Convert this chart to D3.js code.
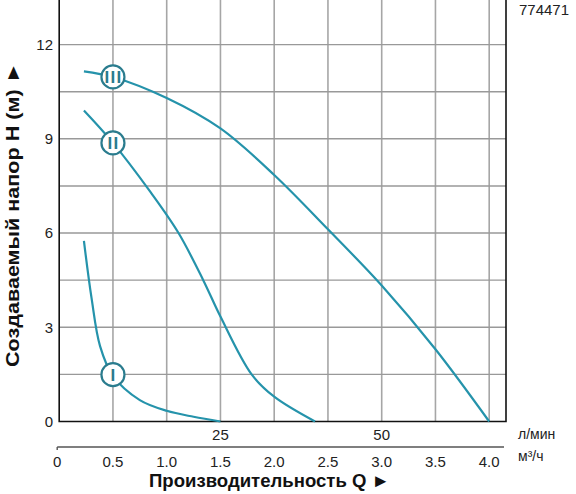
<!DOCTYPE html>
<html><head><meta charset="utf-8">
<script src="https://cdn.jsdelivr.net/npm/d3@7"></script>
<style>
html,body{margin:0;padding:0;background:#fff;}
svg{display:block;font-family:"Liberation Sans",Arial,sans-serif;}
</style></head>
<body>
<svg id="c" width="576" height="494"></svg>
<script>
// ---- data ----
const flowTicksM3h = [0.5, 1.0, 1.5, 2.0, 2.5, 3.0, 3.5, 4.0];
const flowTicksLmin = [25, 50];
const headTicks = [0, 3, 6, 9, 12];
const headGrid = [1.5, 3, 4.5, 6, 7.5, 9, 10.5, 12];
const curveNames = ["I", "II", "III"];
const curveI_Q = [0.23, 0.30, 0.38, 0.50, 0.75, 1.00, 1.25, 1.50];
const curveI_H = [5.75, 3.95, 2.40, 1.45, 0.68, 0.34, 0.15, 0.00];
const curveII_Q = [0.23, 0.50, 0.85, 1.11, 1.34, 1.50, 1.79, 2.00, 2.38];
const curveII_H = [9.90, 8.87, 7.30, 6.00, 4.50, 3.34, 1.50, 0.79, 0.00];
const curveIII_Q = [0.23, 0.50, 1.00, 1.50, 2.00, 2.50, 3.00, 3.50, 4.00];
const curveIII_H = [11.15, 10.97, 10.30, 9.33, 7.85, 6.12, 4.33, 2.30, 0.00];
const markerQ = 0.5;
const markerH = [1.49, 8.87, 10.97];
const chartCode = "774471";

// ---- layout ----
const svg = d3.select("#c");
const x = d3.scaleLinear().domain([0, 4]).range([59.2, 489.2]);
const y = d3.scaleLinear().domain([0, 13.42]).range([421.5, 0]);
const plotRight = 506, plotTop = 0, plotBottom = y(0), plotLeft = x(0);
const teal = "#2593ab", tealDark = "#2a7c8e";

// grid
const g = svg.append("g");
g.selectAll("line.v").data(flowTicksM3h).enter().append("line")
  .attr("x1", d => x(d)).attr("x2", d => x(d))
  .attr("y1", plotTop).attr("y2", plotBottom)
  .attr("stroke", "#a6a6a6").attr("stroke-width", 1.6);
g.selectAll("line.h").data(headGrid).enter().append("line")
  .attr("x1", plotLeft).attr("x2", plotRight)
  .attr("y1", d => y(d)).attr("y2", d => y(d))
  .attr("stroke", "#999").attr("stroke-width", 1.4);

// frame
svg.append("path")
  .attr("d", `M${plotLeft},${plotTop}V${plotBottom}H${plotRight}V${plotTop}`)
  .attr("fill", "none").attr("stroke", "#111").attr("stroke-width", 1.6);

// y tick labels
svg.selectAll("text.yt").data(headTicks).enter().append("text")
  .attr("x", 53).attr("y", d => y(d)).attr("dy", "0.36em")
  .attr("text-anchor", "end").attr("font-size", 15).attr("fill", "#222")
  .text(d => d);

// bottom m3/h axis
const axisY = 447;
svg.append("line").attr("x1", x(0) - 2).attr("x2", 504).attr("y1", axisY).attr("y2", axisY)
  .attr("stroke", "#555").attr("stroke-width", 1.6);
svg.append("line").attr("x1", x(0) - 2).attr("x2", x(0) - 2).attr("y1", axisY).attr("y2", axisY + 3)
  .attr("stroke", "#555").attr("stroke-width", 1.4);
svg.selectAll("text.xt").data([0].concat(flowTicksM3h)).enter().append("text")
  .attr("x", d => d === 0 ? x(d) - 2 : x(d)).attr("y", 467)
  .attr("text-anchor", "middle").attr("font-size", 15).attr("fill", "#222")
  .text(d => d === 0 ? "0" : d.toFixed(1));
// l/min labels (60 l/min = 3.6 m3/h)
svg.selectAll("text.lt").data(flowTicksLmin).enter().append("text")
  .attr("x", d => x(d * 0.06)).attr("y", 440)
  .attr("text-anchor", "middle").attr("font-size", 15).attr("fill", "#222")
  .text(d => d);
svg.append("text").attr("x", 518).attr("y", 439).attr("font-size", 14).attr("fill", "#222").text("л/мин");
svg.append("text").attr("x", 518).attr("y", 461).attr("font-size", 14).attr("fill", "#222").text("м³/ч");

// titles
svg.append("text").attr("x", 149).attr("y", 487)
  .attr("font-size", 18.5).attr("font-weight", "bold").attr("fill", "#111")
  .attr("textLength", 241).attr("lengthAdjust", "spacingAndGlyphs")
  .text("Производительность Q ►");
svg.append("text").attr("transform", "translate(18.5,367) rotate(-90)")
  .attr("font-size", 19).attr("font-weight", "bold").attr("fill", "#111")
  .attr("textLength", 305).attr("lengthAdjust", "spacingAndGlyphs")
  .text("Создаваемый напор H (м) ►");
svg.append("text").attr("x", 519).attr("y", 15).attr("font-size", 15).attr("fill", "#222").text(chartCode);

// curves
const line = d3.line().x(d => x(d[0])).y(d => y(d[1])).curve(d3.curveCatmullRom.alpha(0.5));
const curves = [
  d3.zip(curveI_Q, curveI_H),
  d3.zip(curveII_Q, curveII_H),
  d3.zip(curveIII_Q, curveIII_H)
];
svg.selectAll("path.curve").data(curves).enter().append("path")
  .attr("d", line).attr("fill", "none").attr("stroke", teal).attr("stroke-width", 2.2);

// markers
const mk = svg.selectAll("g.mk").data(curveNames).enter().append("g")
  .attr("transform", (d, i) => `translate(${x(markerQ)},${y(markerH[i])})`);
mk.append("circle").attr("r", 11.5).attr("fill", "#fff").attr("stroke", tealDark).attr("stroke-width", 2.2);
mk.append("text").attr("text-anchor", "middle").attr("dy", "0.36em")
  .attr("font-size", 17).attr("font-weight", "bold").attr("fill", tealDark)
  .attr("letter-spacing", d => d.length > 1 ? 1.3 : 0)
  .attr("dx", d => d.length > 1 ? 0.65 : 0)
  .text(d => d);
</script>
</body></html>
